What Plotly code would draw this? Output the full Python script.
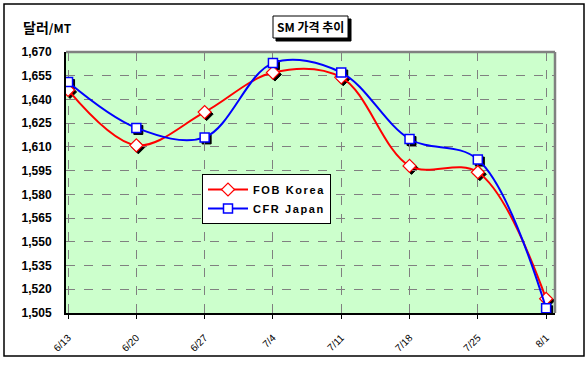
import plotly.graph_objects as go

dates = ["6/13", "6/20", "6/27", "7/4", "7/11", "7/18", "7/25", "8/1"]
fob_korea = [1646, 1611, 1632, 1657, 1654, 1598, 1594, 1514]
cfr_japan = [1651, 1622, 1616, 1663, 1657, 1615, 1602, 1508]
y_ticks = list(range(1505, 1671, 15))
series_names = ["FOB Korea", "CFR Japan"]

FONT = "Liberation Sans, Arial, sans-serif"
xs = list(range(len(dates)))

# pixel geometry
W_FIG, H_FIG = 588, 366
ML, MR, MT, MB = 66, 31, 52, 51
PW, PH = W_FIG - ML - MR, H_FIG - MT - MB
SH = 2  # shadow offset px


def px(x):
    return (x - ML) / PW


def py(y):
    return (H_FIG - MB - y) / PH


def spaced(name, ls=1.6):
    return f"<span style='letter-spacing:{ls}px'>{name}</span>"


XR = [-0.03, 7.13]
YR = [1505, 1670]

fig = go.Figure()
# marker shadows on offset (hidden) axes x/y, drawn beneath the main subplot
for vals, sym, size in [(fob_korea, "diamond", 10), (cfr_japan, "square", 9)]:
    fig.add_trace(go.Scatter(
        x=xs, y=vals, mode="markers", xaxis="x", yaxis="y", showlegend=False,
        hoverinfo="skip",
        marker=dict(symbol=sym, size=size, color="black",
                    line=dict(color="black", width=1)),
    ))
fig.add_trace(go.Scatter(
    x=xs, y=fob_korea, name=spaced(series_names[0]), mode="lines+markers",
    xaxis="x2", yaxis="y2",
    line=dict(color="#FF0000", width=2, shape="spline", smoothing=1),
    marker=dict(symbol="diamond", size=10, color="white",
                line=dict(color="#FF0000", width=1.2)),
))
fig.add_trace(go.Scatter(
    x=xs, y=cfr_japan, name=spaced(series_names[1]), mode="lines+markers",
    xaxis="x2", yaxis="y2",
    line=dict(color="#0000FF", width=2, shape="spline", smoothing=1),
    marker=dict(symbol="square", size=9, color="white",
                line=dict(color="#0000FF", width=1.5)),
))

MAIN_X = [0, (PW - SH) / PW]
MAIN_Y = [SH / PH, 1]

fig.update_layout(
    width=W_FIG, height=H_FIG,
    margin=dict(l=ML, r=MR, t=MT, b=MB),
    paper_bgcolor="white", plot_bgcolor="rgba(0,0,0,0)",
    font=dict(family=FONT, size=11, color="black"),
    showlegend=True,
    legend=dict(
        x=px(202), y=py(174), xanchor="left", yanchor="top",
        bgcolor="white", bordercolor="black", borderwidth=1,
        font=dict(family=FONT, size=11, color="black", weight="bold"),
        itemwidth=40, tracegroupgap=0,
    ),
    xaxis=dict(domain=[SH / PW, 1], range=XR, anchor="y", visible=False,
               showgrid=False, zeroline=False),
    yaxis=dict(domain=[0, (PH - SH) / PH], range=YR, anchor="x", visible=False,
               showgrid=False, zeroline=False),
    xaxis2=dict(
        domain=MAIN_X, anchor="y2",
        range=XR, tickmode="array", tickvals=xs, ticktext=dates,
        tickangle=-45, showgrid=True, gridcolor="#808080", griddash="dash",
        gridwidth=1, showline=True, linecolor="black", linewidth=2,
        ticks="outside", ticklen=4, tickcolor="black", zeroline=False,
        ticklabelstandoff=9,
        tickfont=dict(family=FONT, size=10, color="black"),
        automargin=False,
    ),
    yaxis2=dict(
        domain=MAIN_Y, anchor="x2",
        range=YR, tickmode="array", tickvals=y_ticks,
        ticktext=[f"{v:,}" for v in y_ticks],
        showgrid=True, gridcolor="#808080", griddash="dash", gridwidth=1,
        showline=True, linecolor="black", linewidth=2, ticks="",
        ticklabelstandoff=10, zeroline=False, automargin=False,
        tickfont=dict(family=FONT, size=12, color="black", weight="bold"),
    ),
    shapes=[
        # plot background
        dict(type="rect", xref="paper", yref="paper", layer="below",
             x0=MAIN_X[0], x1=MAIN_X[1], y0=MAIN_Y[0], y1=MAIN_Y[1],
             fillcolor="#CCFFCC", line=dict(width=0)),
        dict(type="rect", xref="paper", yref="paper", x0=px(4), x1=px(584),
             y0=py(356), y1=py(4), line=dict(color="black", width=1.5)),
        dict(type="line", xref="paper", yref="paper",
             x0=MAIN_X[0], x1=MAIN_X[1], y0=MAIN_Y[1], y1=MAIN_Y[1],
             line=dict(color="#808080", width=2.5)),
        dict(type="line", xref="paper", yref="paper",
             x0=MAIN_X[1], x1=MAIN_X[1], y0=MAIN_Y[0], y1=MAIN_Y[1],
             line=dict(color="#808080", width=2.5)),
        # title box shadow and box
        dict(type="rect", xref="paper", yref="paper", x0=px(276), x1=px(351),
             y0=py(41), y1=py(19), fillcolor="black",
             line=dict(color="black", width=1)),
        dict(type="rect", xref="paper", yref="paper", x0=px(273), x1=px(348),
             y0=py(38), y1=py(16), fillcolor="white",
             line=dict(color="black", width=1)),
    ],
    annotations=[
        dict(text="<b><span style='font-size:14px'>달러</span>/MT</b>",
             xref="paper", yref="paper",
             x=px(21), y=py(27), xanchor="left", yanchor="middle", showarrow=False,
             font=dict(family="Noto Sans CJK KR", size=12, color="black")),
        dict(text="<b>SM 가격 추이</b>", xref="paper", yref="paper",
             x=px(310.5), y=py(27), xanchor="center", yanchor="middle", showarrow=False,
             font=dict(family="Noto Sans CJK KR", size=12, color="black")),
    ],
)

fig.write_html("out.html", config={"displayModeBar": False},
               post_script="document.body.style.margin='0';")
